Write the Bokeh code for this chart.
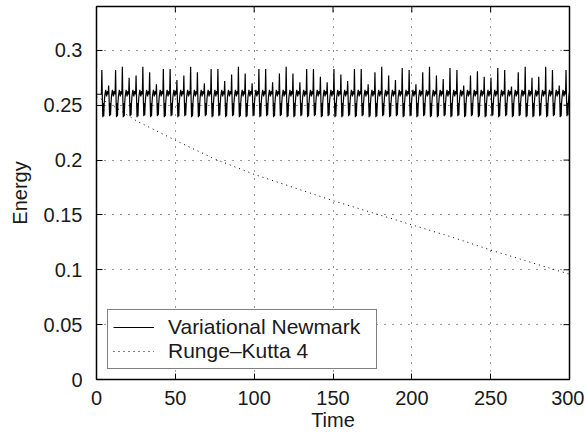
from bokeh.plotting import figure
from bokeh.models import Range1d, Legend, LegendItem, FixedTicker
from bokeh.embed import file_html
from bokeh.resources import INLINE

# ---- data ----
# Variational Newmark: times of the upward spikes, spike peaks, dip minima
spike_times = [3.4, 7.7, 12.1, 16.4, 20.7, 25.1, 29.4, 33.7, 38.0, 42.4,
               46.7, 51.0, 55.4, 59.7, 64.0, 68.4, 72.7, 77.0, 81.3, 85.7,
               90.0, 94.3, 98.7, 103.0, 107.3, 111.7, 116.0, 120.3, 124.6, 129.0,
               133.3, 137.6, 142.0, 146.3, 150.6, 155.0, 159.3, 163.6, 167.9, 172.3,
               176.6, 180.9, 185.3, 189.6, 193.9, 198.3, 202.6, 206.9, 211.2, 215.6,
               219.9, 224.2, 228.6, 232.9, 237.2, 241.6, 245.9, 250.2, 254.5, 258.9,
               263.2, 267.5, 271.9, 276.2, 280.5, 284.9, 289.2, 293.5, 297.8]
spike_peaks = [0.282, 0.268, 0.282, 0.285, 0.275, 0.277, 0.285, 0.280, 0.269, 0.283, 0.283,
               0.273, 0.277, 0.285, 0.280, 0.270, 0.283, 0.283, 0.272, 0.278, 0.285, 0.279, 0.270,
               0.283, 0.283, 0.271, 0.279, 0.285, 0.279, 0.271, 0.283, 0.283, 0.276, 0.271, 0.283,
               0.278, 0.272, 0.283, 0.283, 0.269, 0.280, 0.285, 0.277, 0.273, 0.284, 0.282,
               0.269, 0.280, 0.285, 0.277, 0.274, 0.284, 0.282, 0.268, 0.277, 0.281, 0.276, 0.275,
               0.284, 0.282, 0.267, 0.280, 0.285, 0.275, 0.276, 0.285, 0.282, 0.268, 0.282]
dip_min = [0.239, 0.240, 0.239, 0.239, 0.240, 0.239, 0.240, 0.239, 0.240, 0.239, 0.240,
           0.239, 0.240, 0.239, 0.239, 0.240, 0.239, 0.240, 0.239, 0.240, 0.239, 0.239, 0.240,
           0.239, 0.240, 0.239, 0.240, 0.239, 0.239, 0.240, 0.239, 0.240, 0.239, 0.240, 0.239,
           0.239, 0.240, 0.239, 0.240, 0.239, 0.239, 0.240, 0.239, 0.240, 0.239, 0.240,
           0.239, 0.240, 0.239, 0.239, 0.240, 0.239, 0.240, 0.239, 0.240, 0.239, 0.239, 0.240,
           0.239, 0.240, 0.239, 0.240, 0.239, 0.239, 0.240, 0.239, 0.240, 0.239, 0.240]
base_level = 0.260
base_bump = 0.264
dip_return = 0.252

# Runge-Kutta 4 energy decay
rk_time = [0, 10, 25, 50, 75, 100, 125, 150, 175, 200, 225, 250, 275, 300]
rk_energy = [0.258, 0.250, 0.236, 0.218, 0.201, 0.187, 0.175, 0.163, 0.152,
             0.141, 0.130, 0.118, 0.107, 0.096]

x_ticks = [0, 50, 100, 150, 200, 250, 300]
y_ticks = [0, 0.05, 0.1, 0.15, 0.2, 0.25, 0.3]

X_MIN, X_MAX = 0, 300
Y_MIN, Y_MAX = 0, 0.34

# ---- build Newmark polyline from the read values ----
nm_t, nm_e = [0.0], [base_level]
for t0, pk, dp in zip(spike_times, spike_peaks, dip_min):
    nm_t += [t0 - 0.3, t0, t0 + 0.3, t0 + 0.6, t0 + 0.9, t0 + 1.2, t0 + 1.5,
             t0 + 1.8, t0 + 2.4, t0 + 3.0, t0 + 3.5]
    nm_e += [base_level, pk, 0.256, dp, dip_return, dp + 0.001, dip_return,
             base_level - 0.002, base_bump, base_level - 0.002, base_bump - 0.001]
nm_t.append(300.0)
nm_e.append(base_level)

FONT = "Liberation Sans"
FS = "20px"

W, H = 584, 437
BL, BR, BT, BB = 96, 15, 6, 58

p = figure(width=W, height=H, output_backend="svg", toolbar_location=None,
           x_range=Range1d(X_MIN, X_MAX), y_range=Range1d(Y_MIN, Y_MAX),
           min_border_left=BL, min_border_right=BR, min_border_top=BT,
           min_border_bottom=BB, x_axis_label="Time", y_axis_label="Energy")

r_nm = p.line(nm_t, nm_e, line_color="black", line_width=1.2)
r_rk = p.line(rk_time, rk_energy, line_color="black", line_width=1, line_dash="1 4")

p.outline_line_color = "black"
p.outline_line_width = 1.5
p.outline_line_alpha = 1

for ax in (p.xaxis[0], p.yaxis[0]):
    ax.axis_line_color = None
    ax.major_tick_in = 6
    ax.major_tick_out = 0
    ax.minor_tick_line_color = None
    ax.major_label_text_font = FONT
    ax.major_label_text_font_size = FS
    ax.major_label_text_color = "#1a1a1a"
    ax.axis_label_text_font = FONT
    ax.axis_label_text_font_size = FS
    ax.axis_label_text_font_style = "normal"
    ax.axis_label_text_color = "#1a1a1a"
    ax.major_tick_line_color = "black"

p.xaxis[0].ticker = FixedTicker(ticks=x_ticks)
p.yaxis[0].ticker = FixedTicker(ticks=y_ticks)
p.xaxis[0].major_label_standoff = 11
p.yaxis[0].major_label_standoff = 14
p.xaxis[0].axis_label_standoff = 1
p.yaxis[0].axis_label_standoff = 10

p.xgrid.ticker = FixedTicker(ticks=x_ticks)
p.ygrid.ticker = FixedTicker(ticks=y_ticks)
for g in (p.xgrid, p.ygrid):
    g.grid_line_color = "black"
    g.grid_line_dash = "1 7"
    g.grid_line_width = 1
    g.grid_line_alpha = 0.8

# mirrored inward tick marks on top and right edges (6 px long)
frame_w = W - BL - BR
frame_h = H - BT - BB
dx = 6 * (X_MAX - X_MIN) / frame_w
dy = 6 * (Y_MAX - Y_MIN) / frame_h
p.segment(x0=x_ticks, x1=x_ticks, y0=[Y_MAX] * len(x_ticks),
          y1=[Y_MAX - dy] * len(x_ticks), line_color="black", line_width=1)
p.segment(x0=[X_MAX] * len(y_ticks), x1=[X_MAX - dx] * len(y_ticks),
          y0=y_ticks, y1=y_ticks, line_color="black", line_width=1)

legend = Legend(items=[LegendItem(label="Variational Newmark", renderers=[r_nm]),
                       LegendItem(label="Runge\u2013Kutta 4", renderers=[r_rk])],
                location=(11, 10))
legend.margin = 0
legend.padding = 5
legend.spacing = 0
legend.border_line_color = "black"
legend.border_line_width = 1.5
legend.background_fill_color = "white"
legend.background_fill_alpha = 1
legend.label_text_font = FONT
legend.label_text_font_size = "21px"
legend.label_text_color = "#1a1a1a"
legend.glyph_width = 41
legend.glyph_height = 14
legend.label_height = 14
legend.label_width = 203
legend.label_standoff = 14
p.add_layout(legend)

open("out.html", "w").write(file_html(p, INLINE))
